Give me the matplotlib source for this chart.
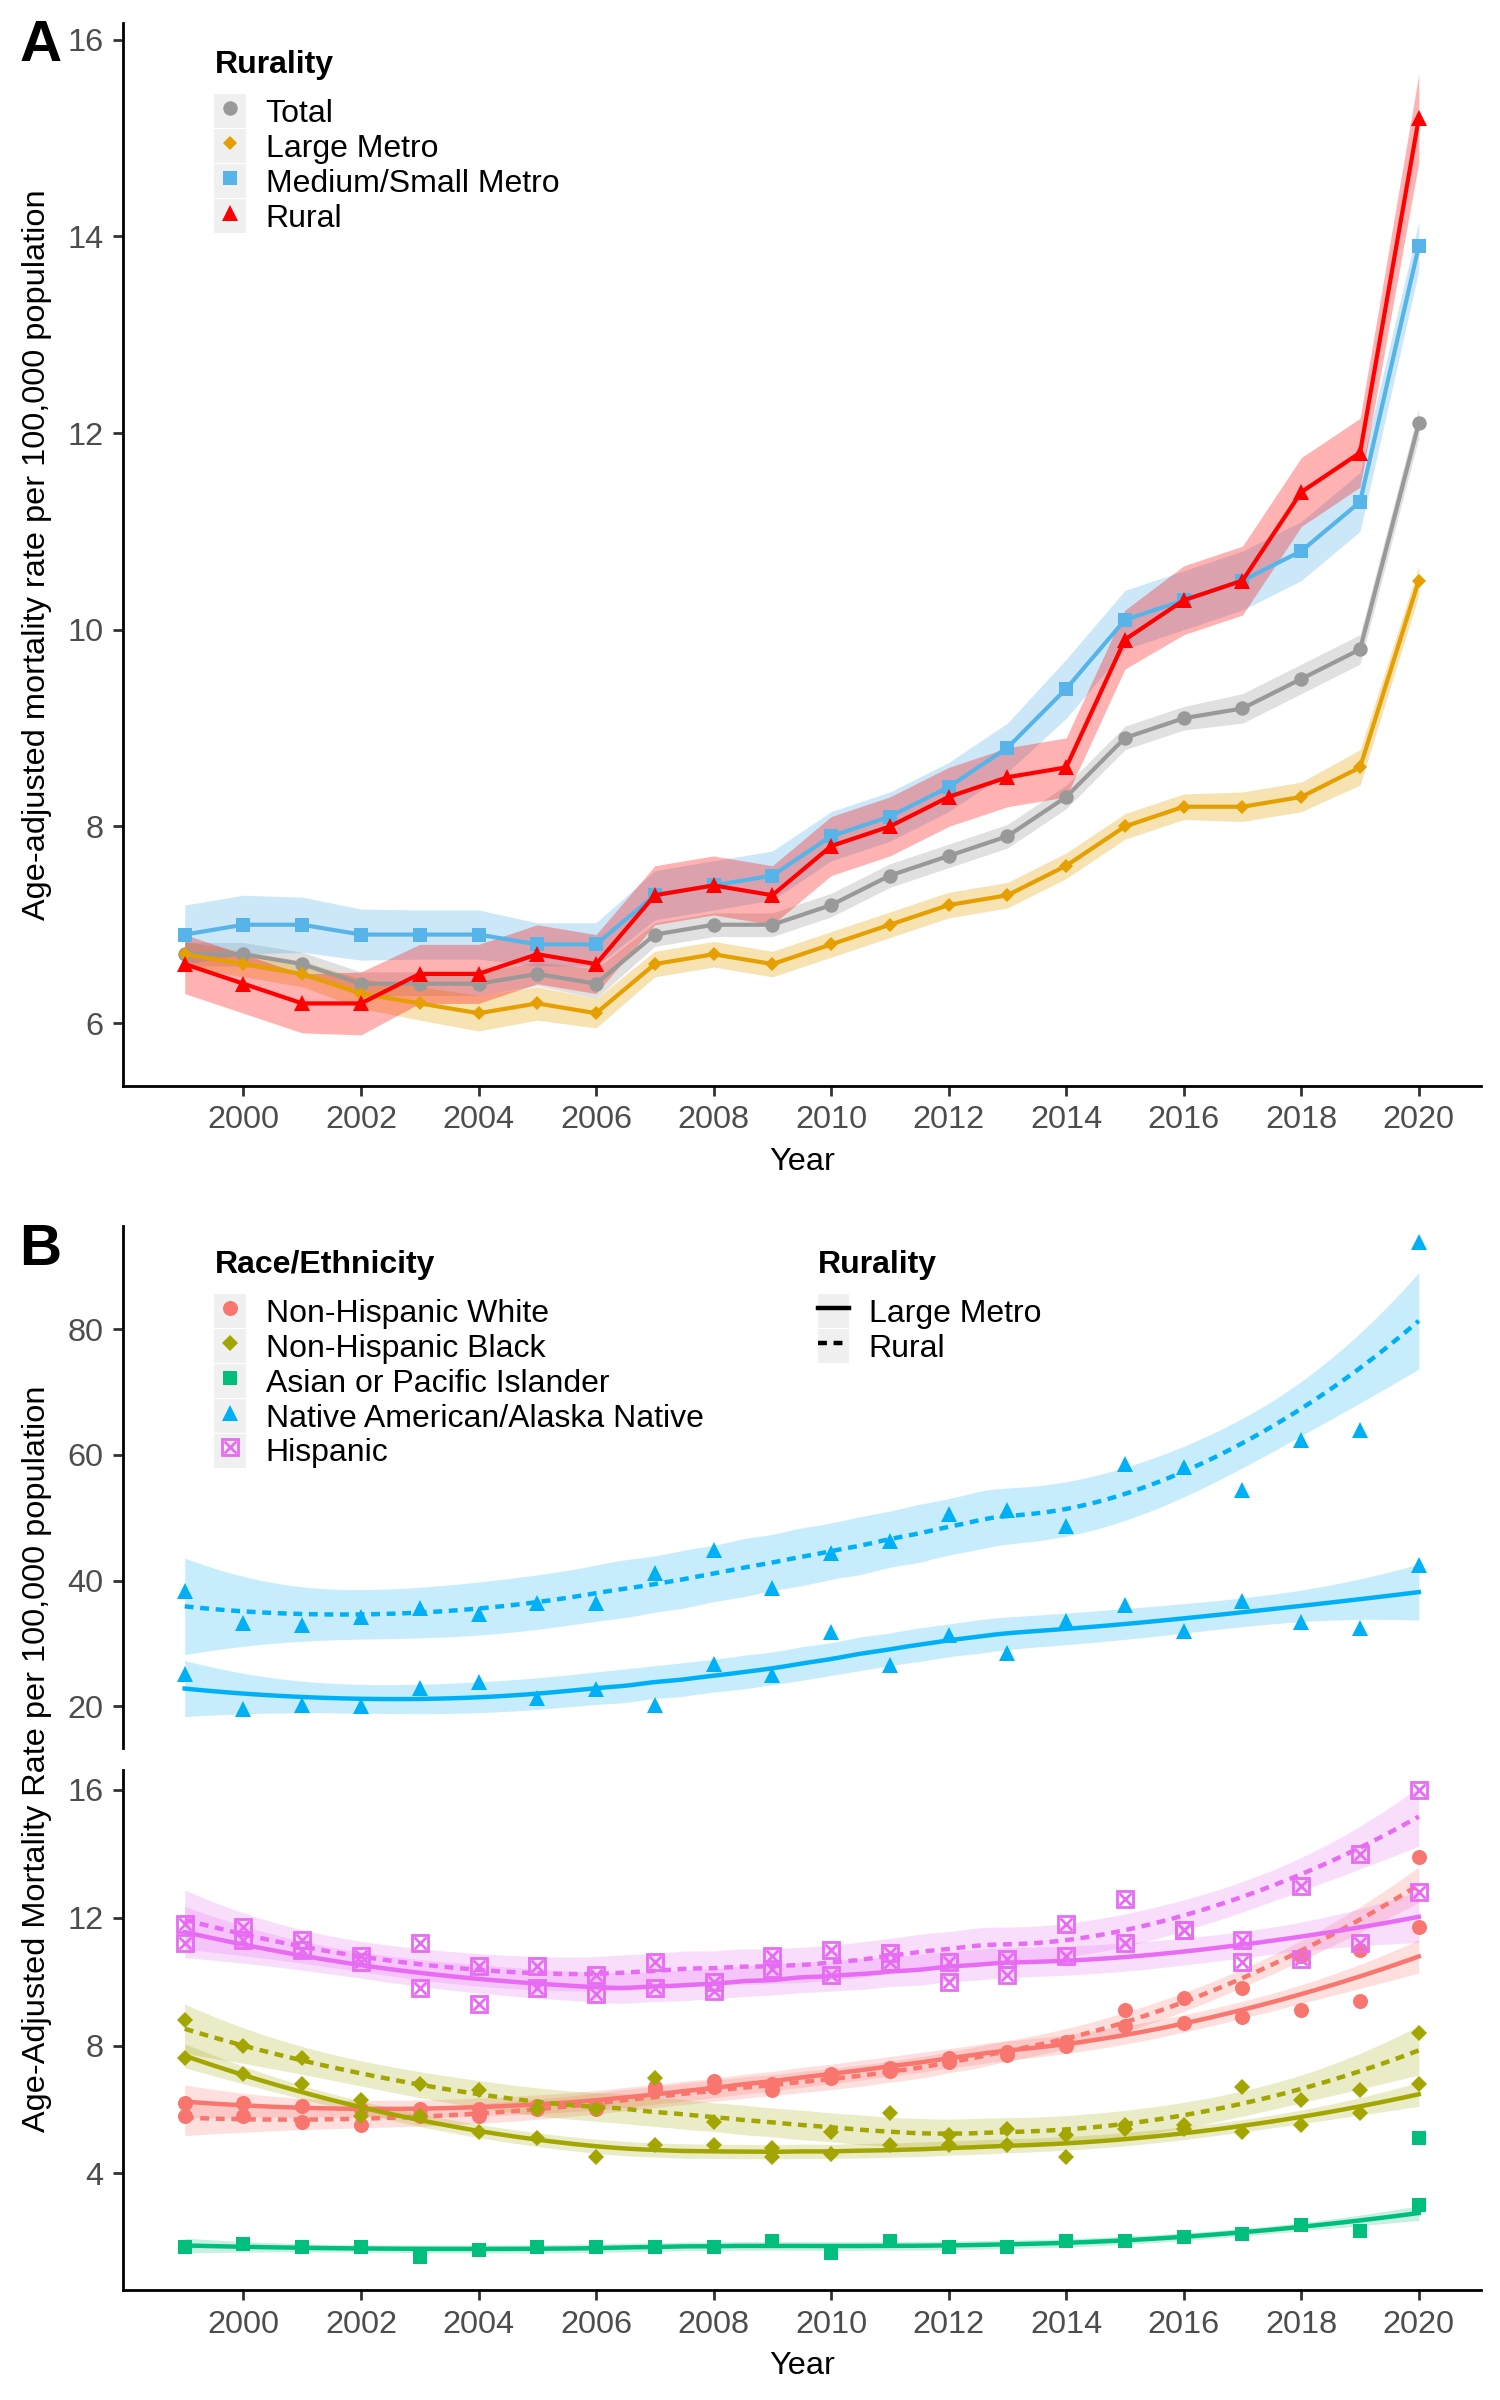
import numpy as np
import matplotlib
matplotlib.use('Agg')
import matplotlib.pyplot as plt
from matplotlib.lines import Line2D
from matplotlib.patches import Patch
from matplotlib.legend_handler import HandlerTuple

plt.rcParams['font.family'] = ['Liberation Sans', 'DejaVu Sans']

years = list(range(1999, 2021))

# Panel A: rates by rurality, with CI half widths
total = [6.7, 6.7, 6.6, 6.4, 6.4, 6.4, 6.5, 6.4, 6.9, 7.0, 7.0, 7.2, 7.5, 7.7, 7.9, 8.3, 8.9, 9.1, 9.2, 9.5, 9.8, 12.1]
large_metro = [6.7, 6.6, 6.5, 6.3, 6.2, 6.1, 6.2, 6.1, 6.6, 6.7, 6.6, 6.8, 7.0, 7.2, 7.3, 7.6, 8.0, 8.2, 8.2, 8.3, 8.6, 10.5]
medium_small = [6.9, 7.0, 7.0, 6.9, 6.9, 6.9, 6.8, 6.8, 7.3, 7.4, 7.5, 7.9, 8.1, 8.4, 8.8, 9.4, 10.1, 10.3, 10.5, 10.8, 11.3, 13.9]
rural = [6.6, 6.4, 6.2, 6.2, 6.5, 6.5, 6.7, 6.6, 7.3, 7.4, 7.3, 7.8, 8.0, 8.3, 8.5, 8.6, 9.9, 10.3, 10.5, 11.4, 11.8, 15.2]

ci_total = [0.12, 0.12, 0.12, 0.12, 0.12, 0.12, 0.12, 0.15, 0.12, 0.12, 0.12, 0.12, 0.12, 0.12, 0.12, 0.12, 0.12, 0.12, 0.15, 0.15, 0.15, 0.15]
ci_large = [0.13, 0.13, 0.13, 0.15, 0.17, 0.18, 0.17, 0.15, 0.13, 0.13, 0.13, 0.13, 0.13, 0.13, 0.13, 0.13, 0.13, 0.13, 0.15, 0.15, 0.18, 0.15]
ci_medium = [0.3, 0.3, 0.28, 0.26, 0.25, 0.25, 0.22, 0.22, 0.25, 0.25, 0.25, 0.25, 0.25, 0.25, 0.25, 0.3, 0.3, 0.3, 0.3, 0.3, 0.3, 0.25]
ci_rural = [0.3, 0.3, 0.3, 0.32, 0.3, 0.3, 0.3, 0.3, 0.3, 0.3, 0.3, 0.3, 0.3, 0.3, 0.3, 0.3, 0.3, 0.35, 0.35, 0.35, 0.35, 0.45]

rur_labels = ['Total', 'Large Metro', 'Medium/Small Metro', 'Rural']
rur_colors = ['#999999', '#E69F00', '#56B4E9', '#FF0000']
rur_markers = ['o', 'D', 's', '^']
rur_msizes = [5.2, 3.8, 5.2, 6.0]

# Panel B: rates by race/ethnicity and rurality
nhw_lm = [6.2, 6.2, 6.1, 6.0, 6.0, 6.0, 6.1, 6.1, 6.6, 6.9, 6.8, 7.1, 7.3, 7.6, 7.8, 8.1, 8.6, 8.7, 8.9, 9.1, 9.4, 11.7]
nhw_rural = [5.8, 5.8, 5.6, 5.5, 5.8, 5.8, 6.0, 6.0, 6.7, 6.7, 6.6, 7.0, 7.2, 7.5, 7.7, 8.0, 9.1, 9.5, 9.8, 10.8, 11.0, 13.9]
nhb_lm = [7.6, 7.1, 6.8, 5.8, 5.8, 5.3, 5.1, 4.5, 4.9, 4.9, 4.5, 4.6, 4.9, 4.9, 4.9, 4.5, 5.4, 5.4, 5.3, 5.5, 5.9, 6.8]
nhb_rural = [8.8, 8.0, 7.6, 6.3, 6.8, 6.6, 6.0, 6.0, 7.0, 5.6, 4.8, 5.3, 5.9, 5.2, 5.4, 5.2, 5.5, 5.5, 6.7, 6.3, 6.6, 8.4]
api_lm = [1.7, 1.8, 1.7, 1.7, 1.4, 1.6, 1.7, 1.7, 1.7, 1.7, 1.9, 1.5, 1.9, 1.7, 1.7, 1.9, 1.9, 2.0, 2.1, 2.4, 2.2, 3.0]
api_rural_year = [2020]
api_rural = [5.1]
aian_lm = [25.2, 19.6, 20.2, 20.0, 22.9, 23.9, 21.3, 22.7, 20.2, 26.7, 25.0, 31.9, 26.6, 31.4, 28.5, 33.6, 36.1, 32.0, 36.7, 33.4, 32.5, 42.5]
aian_rural = [38.4, 33.3, 33.0, 34.2, 35.7, 34.7, 36.4, 36.4, 41.2, 44.8, 38.8, 44.4, 46.3, 50.6, 51.2, 48.7, 58.5, 58.0, 54.4, 62.3, 64.0, 93.9]
hisp_lm = [11.2, 11.3, 11.0, 10.6, 11.2, 9.3, 9.8, 9.6, 9.8, 10.0, 10.4, 10.2, 10.6, 10.0, 10.2, 10.8, 11.2, 11.6, 10.6, 10.7, 11.2, 12.8]
hisp_rural = [11.8, 11.7, 11.3, 10.8, 9.8, 10.5, 10.5, 10.2, 10.6, 9.7, 10.8, 11.0, 10.9, 10.6, 10.7, 11.8, 12.6, 11.6, 11.3, 13.0, 14.0, 16.0]

race_labels = ['Non-Hispanic White', 'Non-Hispanic Black', 'Asian or Pacific Islander',
               'Native American/Alaska Native', 'Hispanic']
race_colors = ['#F8766D', '#A3A500', '#00BF7D', '#00B0F6', '#E76BF3']


def loess(x, y, xg, span=0.75):
    x = np.asarray(x, float)
    y = np.asarray(y, float)
    n = len(x)
    q = int(np.floor(n * span))

    def row(x0):
        d = np.abs(x - x0)
        h = np.sort(d)[q - 1] * 1.0001
        w = (1 - np.clip(d / h, 0, 1) ** 3) ** 3
        X = np.column_stack([np.ones(n), x - x0, (x - x0) ** 2])
        XtW = X.T * w
        return np.linalg.solve(XtW @ X, XtW)[0]

    L = np.array([row(v) for v in x])
    res = y - L @ y
    M = np.eye(n) - L
    MM = M.T @ M
    d1 = np.trace(MM)
    d2 = np.trace(MM @ MM)
    s = np.sqrt(res @ res / d1)
    df = d1 ** 2 / d2
    G = np.array([row(v) for v in xg])
    fit = G @ y
    se = s * np.sqrt((G ** 2).sum(1))
    z = 1.959964
    t = z + (z ** 3 + z) / (4 * df) + (5 * z ** 5 + 16 * z ** 3 + 3 * z) / (96 * df ** 2)
    return fit, fit - t * se, fit + t * se


fig = plt.figure(figsize=(7.5, 12), dpi=200)
FS = 11.7
LFS = 11.5
TICKC = '#4D4D4D'
bg = '#F0F0F0'


def style_axis(ax, bottom=True):
    for sp in ['top', 'right']:
        ax.spines[sp].set_visible(False)
    ax.spines['left'].set_linewidth(1.0)
    ax.spines['bottom'].set_linewidth(1.0)
    ax.tick_params(axis='both', labelsize=FS, labelcolor=TICKC, color='#333333',
                   length=3.5, width=1.0)
    if not bottom:
        ax.spines['bottom'].set_visible(False)
        ax.tick_params(axis='x', bottom=False, labelbottom=False)


def make_legend(handles, labels, title, anchor):
    leg = fig.legend(handles, labels, loc='upper left', bbox_to_anchor=anchor,
                     frameon=False, fontsize=LFS, title=title, alignment='left',
                     title_fontproperties={'weight': 'bold', 'size': LFS},
                     handler_map={tuple: HandlerTuple(ndivide=1, pad=0)},
                     handlelength=1.0, handleheight=1.27, labelspacing=0.0,
                     handletextpad=0.6, borderpad=0, borderaxespad=0)
    leg._legend_box.sep = 5
    return leg


# ---------------- Panel A ----------------
axA = fig.add_axes([0.082, 0.5475, 0.905, 0.4429])
series = [total, large_metro, medium_small, rural]
cis = [ci_total, ci_large, ci_medium, ci_rural]
for vals, ci, col in zip(series, cis, rur_colors):
    v = np.array(vals)
    c = np.array(ci)
    axA.fill_between(years, v - c, v + c, color=col, alpha=0.3, linewidth=0)
for vals, col, mk, ms in zip(series, rur_colors, rur_markers, rur_msizes):
    axA.plot(years, vals, color=col, lw=1.5, marker=mk, ms=ms, mew=0)

axA.set_xlim(1997.95, 2021.05)
axA.set_ylim(5.36, 16.17)
axA.set_xticks(range(2000, 2021, 2))
axA.set_yticks(range(6, 17, 2))
style_axis(axA)
axA.set_xlabel('Year', fontsize=FS, labelpad=4)
fig.text(0.025, 0.769, 'Age-adjusted mortality rate per 100,000 population',
         rotation=90, ha='center', va='center', fontsize=FS)
fig.text(0.027, 0.981, 'A', fontsize=21, fontweight='bold', ha='center', va='center')

handlesA = [(Patch(facecolor=bg, edgecolor='none'),
             Line2D([], [], color=c, marker=m, ms=s, mew=0, ls='none'))
            for c, m, s in zip(rur_colors, rur_markers, rur_msizes)]
make_legend(handlesA, rur_labels, 'Rurality', (0.143, 0.9790))

# ---------------- Panel B ----------------
axU = fig.add_axes([0.082, 0.2717, 0.905, 0.2175])
axL = fig.add_axes([0.082, 0.0458, 0.905, 0.2167])
xg = np.linspace(1999, 2020, 120)

groups = [
    (axL, nhw_lm, nhw_rural, race_colors[0], 'o', 5.4),
    (axL, nhb_lm, nhb_rural, race_colors[1], 'D', 4.2),
    (axL, api_lm, None, race_colors[2], 's', 4.8),
    (axU, aian_lm, aian_rural, race_colors[3], '^', 5.8),
    (axL, hisp_lm, hisp_rural, race_colors[4], 'hisp', 5.8),
]


def draw_points(ax, xs, ys, col, mk, ms):
    if mk == 'hisp':
        ax.plot(xs, ys, ls='none', marker='s', ms=ms, mfc='none', mec=col, mew=1.0)
        ax.plot(xs, ys, ls='none', marker='x', ms=ms * 0.75, mec=col, mew=1.0)
    else:
        ax.plot(xs, ys, ls='none', marker=mk, ms=ms, color=col, mew=0)


dash = (2.0, 1.5)
LW = 1.6
for ax, lm, ru, col, mk, ms in groups:
    fits = []
    for vals, is_rural in [(lm, False), (ru, True)]:
        if vals is None:
            continue
        fit, lo, hi = loess(years, vals, xg)
        ax.fill_between(xg, lo, hi, color=col, alpha=0.22, linewidth=0)
        fits.append((fit, is_rural))
    for vals in [lm, ru]:
        if vals is not None:
            draw_points(ax, years, vals, col, mk, ms)
    for fit, is_rural in fits:
        if is_rural:
            ax.plot(xg, fit, color=col, lw=LW, ls=(0, dash))
        else:
            ax.plot(xg, fit, color=col, lw=LW)
draw_points(axL, api_rural_year, api_rural, race_colors[2], 's', 4.8)

for ax in (axU, axL):
    ax.set_xlim(1997.95, 2021.05)
    ax.set_xticks(range(2000, 2021, 2))
axU.set_ylim(13.4, 96.4)
axU.set_yticks([20, 40, 60, 80])
axL.set_ylim(0.35, 16.62)
axL.set_yticks([4, 8, 12, 16])
style_axis(axU, bottom=False)
style_axis(axL)
axL.set_xlabel('Year', fontsize=FS, labelpad=4)
fig.text(0.025, 0.267, 'Age-Adjusted Mortality Rate per 100,000 population',
         rotation=90, ha='center', va='center', fontsize=FS)
fig.text(0.027, 0.479, 'B', fontsize=21, fontweight='bold', ha='center', va='center')

race_marks = [('o', 5.4), ('D', 4.2), ('s', 4.8), ('^', 5.8), ('hisp', 5.8)]
handlesB = []
for col, (mk, ms) in zip(race_colors, race_marks):
    p = Patch(facecolor=bg, edgecolor='none')
    if mk == 'hisp':
        handlesB.append((p, Line2D([], [], ls='none', marker='s', ms=ms, mfc='none', mec=col, mew=1.0),
                         Line2D([], [], ls='none', marker='x', ms=ms * 0.75, mec=col, mew=1.0)))
    else:
        handlesB.append((p, Line2D([], [], ls='none', marker=mk, ms=ms, color=col, mew=0)))
make_legend(handlesB, race_labels, 'Race/Ethnicity', (0.143, 0.4790))

handlesR = [(Patch(facecolor=bg, edgecolor='none'), Line2D([], [], color='black', lw=LW)),
            (Patch(facecolor=bg, edgecolor='none'), Line2D([], [], color='black', lw=LW, ls=(0, dash)))]
make_legend(handlesR, ['Large Metro', 'Rural'], 'Rurality', (0.545, 0.4790))

fig.savefig('out.png', dpi=200)
